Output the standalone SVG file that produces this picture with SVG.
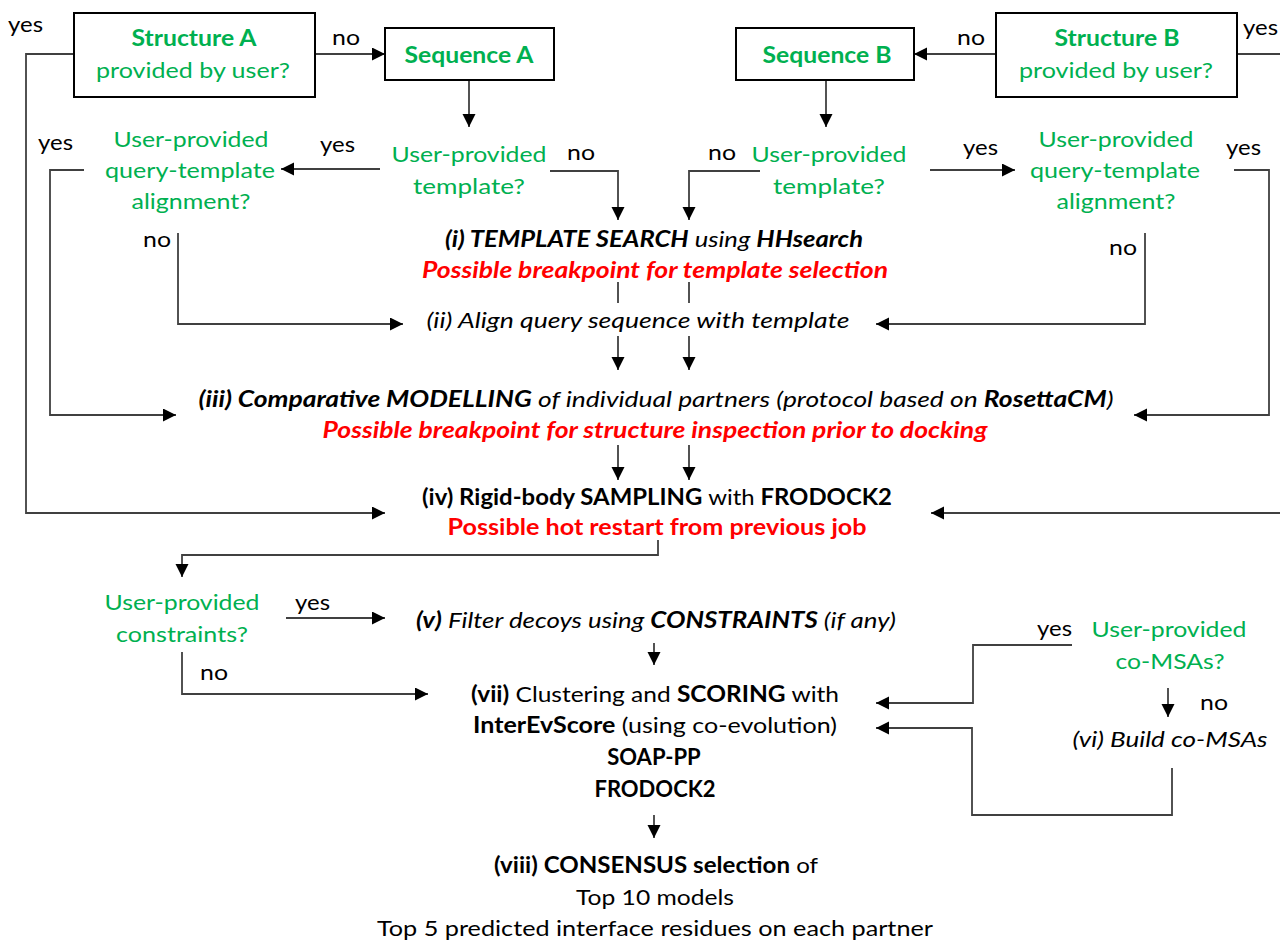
<svg xmlns="http://www.w3.org/2000/svg" width="1280" height="940" viewBox="0 0 1280 940">
<style>
text{font-family:Lato,"Liberation Sans",sans-serif;font-size:22px;fill:#000}
.g{fill:#00B050}
.r{fill:#FF0000;font-weight:bold;font-style:italic}
.b{font-weight:bold}
.i{font-style:italic}
.n{font-weight:normal}
.c{text-anchor:middle}
.box{fill:#fff;stroke:#000;stroke-width:2}
.ln{fill:none;stroke:#404040;stroke-width:1.8}
.ar{marker-end:url(#ah)}
</style>
<defs>
<marker id="ah" markerUnits="userSpaceOnUse" markerWidth="14" markerHeight="14" refX="13" refY="6.5" orient="auto">
<path d="M0,0 L13,6.5 L0,13 z" fill="#000"/>
</marker>
</defs>
<rect width="1280" height="940" fill="#fff"/>

<g id="connectors">
<path class="ln ar" d="M74,54 H26 V513 H385"/>
<path class="ln ar" d="M315,54 H385"/>
<path class="ln ar" d="M469,80 V127"/>
<path class="ln ar" d="M380,169 H281"/>
<path class="ln ar" d="M550,171 H618 V220"/>
<path class="ln ar" d="M84,170 H50 V415 H176"/>
<path class="ln ar" d="M178,233 V324 H403"/>
<path class="ln ar" d="M996,54 H914"/>
<path class="ln" d="M1237,54 H1280"/>
<path class="ln ar" d="M826,80 V127"/>
<path class="ln ar" d="M760,171 H689 V220"/>
<path class="ln ar" d="M930,170 H1015"/>
<path class="ln ar" d="M1234,170 H1269 V415 H1134"/>
<path class="ln ar" d="M1145,233 V324 H876"/>
<path class="ln" d="M618,282 V303 M689,282 V303"/>
<path class="ln ar" d="M618,336 V370"/>
<path class="ln ar" d="M689,336 V370"/>
<path class="ln ar" d="M618,445 V480"/>
<path class="ln ar" d="M689,445 V480"/>
<path class="ln ar" d="M1280,513 H931"/>
<path class="ln ar" d="M658,540 V555 H182 V577"/>
<path class="ln ar" d="M286,618 H385"/>
<path class="ln ar" d="M182,652 V694 H428"/>
<path class="ln ar" d="M654,643 V665"/>
<path class="ln ar" d="M1072,645 H973 V703 H876"/>
<path class="ln ar" d="M1168,688 V717"/>
<path class="ln ar" d="M1172,768 V815 H972 V728 H876"/>
<path class="ln ar" d="M654,815 V838"/>
</g>

<g id="labels">
<text x="8" y="32" textLength="35" lengthAdjust="spacingAndGlyphs">yes</text>
<text x="332" y="45" textLength="28" lengthAdjust="spacingAndGlyphs">no</text>
<text x="320" y="152" textLength="35" lengthAdjust="spacingAndGlyphs">yes</text>
<text x="567" y="160" textLength="28" lengthAdjust="spacingAndGlyphs">no</text>
<text x="38" y="150" textLength="35" lengthAdjust="spacingAndGlyphs">yes</text>
<text x="143" y="247" textLength="28" lengthAdjust="spacingAndGlyphs">no</text>
<text x="957" y="45" textLength="28" lengthAdjust="spacingAndGlyphs">no</text>
<text x="1243" y="35" textLength="35" lengthAdjust="spacingAndGlyphs">yes</text>
<text x="708" y="160" textLength="28" lengthAdjust="spacingAndGlyphs">no</text>
<text x="963" y="155" textLength="35" lengthAdjust="spacingAndGlyphs">yes</text>
<text x="1226" y="155" textLength="35" lengthAdjust="spacingAndGlyphs">yes</text>
<text x="1109" y="255" textLength="28" lengthAdjust="spacingAndGlyphs">no</text>
<text x="295" y="610" textLength="35" lengthAdjust="spacingAndGlyphs">yes</text>
<text x="200" y="680" textLength="28" lengthAdjust="spacingAndGlyphs">no</text>
<text x="1037" y="636" textLength="35" lengthAdjust="spacingAndGlyphs">yes</text>
<text x="1200" y="710" textLength="28" lengthAdjust="spacingAndGlyphs">no</text>
</g>

<g id="structA">
<rect class="box" x="74" y="13" width="241" height="84"/>
<text class="g b c" x="194" y="46" textLength="125" lengthAdjust="spacingAndGlyphs">Structure A</text>
<text class="g c" x="193" y="78" textLength="194" lengthAdjust="spacingAndGlyphs">provided by user?</text>
</g>
<g id="seqA">
<rect class="box" x="385" y="28" width="169" height="52"/>
<text class="g b c" x="469" y="63" textLength="129" lengthAdjust="spacingAndGlyphs">Sequence A</text>
</g>
<g id="seqB">
<rect class="box" x="736" y="28" width="178" height="52"/>
<text class="g b c" x="827" y="63" textLength="129" lengthAdjust="spacingAndGlyphs">Sequence B</text>
</g>
<g id="structB">
<rect class="box" x="996" y="13" width="241" height="84"/>
<text class="g b c" x="1117" y="46" textLength="125" lengthAdjust="spacingAndGlyphs">Structure B</text>
<text class="g c" x="1116" y="78" textLength="194" lengthAdjust="spacingAndGlyphs">provided by user?</text>
</g>
<g id="qTemplateA">
<text class="g c" x="469" y="162" textLength="155" lengthAdjust="spacingAndGlyphs">User-provided</text>
<text class="g c" x="469" y="194" textLength="112" lengthAdjust="spacingAndGlyphs">template?</text>
</g>
<g id="qAlignA">
<text class="g c" x="191" y="147" textLength="155" lengthAdjust="spacingAndGlyphs">User-provided</text>
<text class="g c" x="190" y="178" textLength="170" lengthAdjust="spacingAndGlyphs">query-template</text>
<text class="g c" x="191" y="209" textLength="119" lengthAdjust="spacingAndGlyphs">alignment?</text>
</g>
<g id="qTemplateB">
<text class="g c" x="829" y="162" textLength="155" lengthAdjust="spacingAndGlyphs">User-provided</text>
<text class="g c" x="829" y="194" textLength="112" lengthAdjust="spacingAndGlyphs">template?</text>
</g>
<g id="qAlignB">
<text class="g c" x="1116" y="147" textLength="155" lengthAdjust="spacingAndGlyphs">User-provided</text>
<text class="g c" x="1115" y="178" textLength="170" lengthAdjust="spacingAndGlyphs">query-template</text>
<text class="g c" x="1116" y="209" textLength="119" lengthAdjust="spacingAndGlyphs">alignment?</text>
</g>
<g id="step1">
<text class="c i" x="654" y="247" textLength="418" lengthAdjust="spacingAndGlyphs"><tspan class="b">(i) TEMPLATE SEARCH</tspan> using <tspan class="b">HHsearch</tspan></text>
<text class="c r" x="655" y="278" textLength="466" lengthAdjust="spacingAndGlyphs">Possible breakpoint for template selection</text>
</g>
<g id="step2">
<text class="c i" x="638" y="328" textLength="423" lengthAdjust="spacingAndGlyphs">(ii) Align query sequence with template</text>
</g>
<g id="step3">
<text class="c i" x="656" y="407" textLength="915" lengthAdjust="spacingAndGlyphs"><tspan class="b">(iii) Comparative MODELLING</tspan> of individual partners (protocol based on <tspan class="b">RosettaCM</tspan>)</text>
<text class="c r" x="655" y="438" textLength="665" lengthAdjust="spacingAndGlyphs">Possible breakpoint for structure inspection prior to docking</text>
</g>
<g id="step4">
<text class="c b" x="657" y="505" textLength="470" lengthAdjust="spacingAndGlyphs">(iv) Rigid-body SAMPLING <tspan class="n">with</tspan> FRODOCK2</text>
<text class="c b" x="657" y="535" style="fill:#FF0000" textLength="419" lengthAdjust="spacingAndGlyphs">Possible hot restart from previous job</text>
</g>
<g id="qConstraints">
<text class="g c" x="182" y="610" textLength="155" lengthAdjust="spacingAndGlyphs">User-provided</text>
<text class="g c" x="182" y="642" textLength="132" lengthAdjust="spacingAndGlyphs">constraints?</text>
</g>
<g id="step5">
<text class="c i" x="656" y="628" textLength="480" lengthAdjust="spacingAndGlyphs"><tspan class="b">(v)</tspan> Filter decoys using <tspan class="b">CONSTRAINTS</tspan> (if any)</text>
</g>
<g id="step7">
<text class="c" x="655" y="702" textLength="368" lengthAdjust="spacingAndGlyphs"><tspan class="b">(vii)</tspan> Clustering and <tspan class="b">SCORING</tspan> with</text>
<text class="c" x="655" y="733" textLength="364" lengthAdjust="spacingAndGlyphs"><tspan class="b">InterEvScore</tspan> (using co-evolution)</text>
<text class="c b" x="654" y="765">SOAP-PP</text>
<text class="c b" x="655" y="797">FRODOCK2</text>
</g>
<g id="qMSA">
<text class="g c" x="1169" y="637" textLength="155" lengthAdjust="spacingAndGlyphs">User-provided</text>
<text class="g c" x="1170" y="669" textLength="109" lengthAdjust="spacingAndGlyphs">co-MSAs?</text>
</g>
<g id="step6">
<text class="c i" x="1170" y="747" textLength="195" lengthAdjust="spacingAndGlyphs">(vi) Build co-MSAs</text>
</g>
<g id="step8">
<text class="c" x="656" y="873" textLength="324" lengthAdjust="spacingAndGlyphs"><tspan class="b">(viii) CONSENSUS selection</tspan> of</text>
<text class="c" x="655" y="905" textLength="158" lengthAdjust="spacingAndGlyphs">Top 10 models</text>
<text class="c" x="655" y="936" textLength="556" lengthAdjust="spacingAndGlyphs">Top 5 predicted interface residues on each partner</text>
</g>
</svg>
